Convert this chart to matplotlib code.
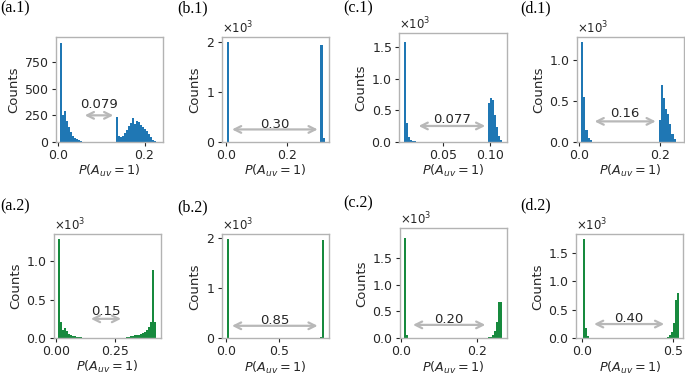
import numpy as np
import matplotlib
matplotlib.use('Agg')
import matplotlib.pyplot as plt

W, H = 685, 375
BLUE = '#1f77b4'
GREEN = '#178a3e'

panel_labels = ['(a.1)', '(b.1)', '(c.1)', '(d.1)', '(a.2)', '(b.2)', '(c.2)', '(d.2)']
gap_labels = ['0.079', '0.30', '0.077', '0.16', '0.15', '0.85', '0.20', '0.40']

bin_width = [0.0046, 0.0068, 0.00208, 0.0053, 0.0085, 0.018, 0.0053, 0.011]
left_start = [0.0046, 0.005, 0.0085, 0.005, 0.0085, 0.014, 0.009, 0.005]
left_counts = [
    [926, 250, 290, 200, 140, 95, 60, 40, 25, 15, 8],
    [1990],
    [1580, 290, 80, 25, 10, 5],
    [1210, 545, 150, 50, 20],
    [1290, 215, 110, 125, 85, 55, 40, 30, 22, 16, 11, 8, 5, 3, 2],
    [1990],
    [1870, 60, 10],
    [1740, 175, 40, 10],
]
right_start = [0.134, 0.311, 0.098, 0.1955, 0.287, 0.892, 0.23, 0.465]
right_counts = [
    [230, 60, 45, 60, 80, 110, 150, 175, 225, 165, 200, 185, 160, 140, 120, 100, 75, 45, 20, 8],
    [1930, 80],
    [610, 690, 660, 430, 240, 90, 30],
    [265, 690, 530, 400, 340, 220, 100, 40],
    [5, 8, 12, 20, 28, 35, 40, 45, 55, 65, 80, 100, 140, 210, 885, 210],
    [20, 1970],
    [15, 30, 60, 130, 300, 680, 680],
    [30, 60, 110, 260, 670, 790],
]

xlims = [(-0.005, 0.242), (-0.013, 0.340), (0.0033, 0.118), (-0.005, 0.257),
         (-0.0085, 0.443), (-0.039, 0.976), (-0.002, 0.279), (-0.035, 0.555)]
ylims = [985, 2090, 1722, 1273, 1356, 2080, 2050, 1825]
xticks = [[0, 0.2], [0, 0.2], [0.05, 0.10], [0, 0.2],
          [0, 0.25], [0, 0.5], [0, 0.2], [0, 0.5]]
yticks = [[0, 250, 500, 750], [0, 1000, 2000], [0, 500, 1000, 1500], [0, 500, 1000],
          [0, 500, 1000], [0, 1000, 2000], [0, 500, 1000, 1500], [0, 500, 1000, 1500]]

# axes boxes in pixels: left, right, top, bottom
boxes = [(56, 162.7, 37, 142), (221.7, 329.3, 37, 142), (399.3, 506.7, 33.3, 141.7),
         (577, 683.5, 37, 142), (54, 160.7, 234, 338), (221.7, 329.3, 234.3, 338.3),
         (400, 506.7, 228.3, 338.3), (576, 683.3, 234.3, 338.3)]
label_pos = [(0, 8), (177, 8), (343, 8), (520, 8),
             (0, 206), (177, 207), (343, 203), (520, 205)]

TXT = '#262626'
SPINE = '#b3b3b3'
ARROW = '#b8b8b8'

plt.rcParams['font.family'] = ['DejaVu Sans']
plt.rcParams['mathtext.fontset'] = 'dejavusans'

fig = plt.figure(figsize=(W / 100, H / 100), dpi=100)

for i in range(8):
    l, r, t, b = boxes[i]
    ax = fig.add_axes([l / W, 1 - b / H, (r - l) / W, (b - t) / H])
    color = BLUE if i < 4 else GREEN
    w = bin_width[i]
    lc = np.array(left_counts[i], float)
    rc = np.array(right_counts[i], float)
    le = left_start[i] + w * np.arange(len(lc) + 1)
    re = right_start[i] + w * np.arange(len(rc) + 1)
    ax.hist(le[:-1], bins=le, weights=lc, color=color, histtype='stepfilled', lw=0)
    ax.hist(re[:-1], bins=re, weights=rc, color=color, histtype='stepfilled', lw=0)
    x1 = le[-1]
    x2 = re[0]
    ax.annotate('', xy=(x1, 250), xytext=(x2, 250),
                arrowprops=dict(arrowstyle='<->', color=ARROW, lw=1.6,
                                mutation_scale=12))
    ax.text((x1 + x2) / 2, 350, gap_labels[i], ha='center', va='center',
            fontsize=9.5, color=TXT)
    ax.set_xlim(*xlims[i])
    ax.set_ylim(0, ylims[i])
    ax.set_xticks(xticks[i])
    ax.set_yticks(yticks[i])
    ax.ticklabel_format(axis='y', style='sci', scilimits=(-3, 3), useMathText=True)
    ax.yaxis.get_offset_text().set_fontsize(8.5)
    ax.yaxis.get_offset_text().set_color(TXT)
    for s in ax.spines.values():
        s.set_color(SPINE)
        s.set_linewidth(1.0)
    ax.tick_params(labelsize=9, colors=TXT, length=3, width=0.8, pad=2)
    ax.set_ylabel('Counts', fontsize=9.5, color=TXT, labelpad=3)
    ax.set_xlabel(r'$P(A_{uv}=1)$', fontsize=9.2, color=TXT, labelpad=1)
    fx, fy = label_pos[i]
    fig.text(fx / W, 1 - fy / H, panel_labels[i], ha='left', va='center',
             fontsize=11.5, family='Liberation Serif', color='black')

fig.savefig('out.png', dpi=100)
